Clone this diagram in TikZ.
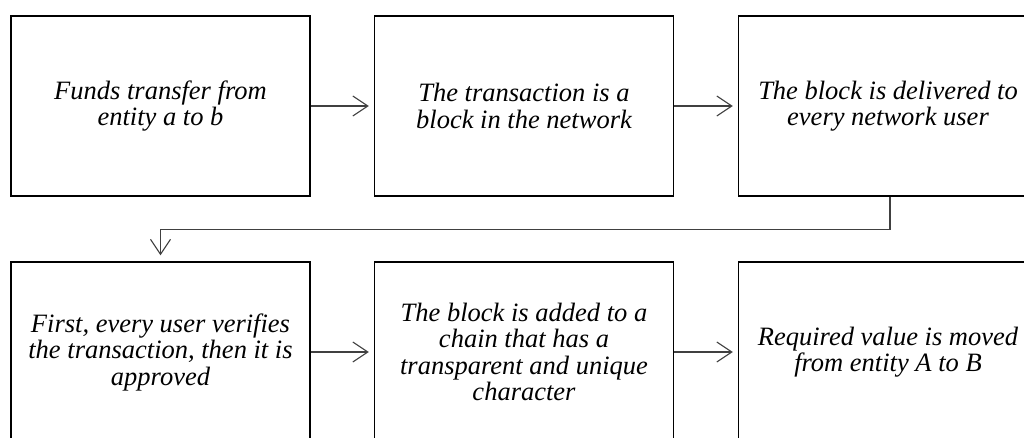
\documentclass[tikz,border=0pt]{standalone}
\usepackage{fontspec}
\setmainfont{Liberation Serif}
\usetikzlibrary{arrows.meta}
\begin{document}
\begin{tikzpicture}[x=1pt,y=-1pt,
  stepbox/.style={draw=black,line width=1.4pt,minimum width=299pt,minimum height=180pt,inner sep=0pt,align=center,
    font=\fontsize{26.5}{26.5}\selectfont\itshape},
  conn/.style={draw=black!75,line width=1.1pt,-{Straight Barb[length=15pt,width=20pt,line width=1.1pt]},shorten >=5pt}]
\useasboundingbox (0,0) rectangle (1024,438);
\node[stepbox] (b1) at (160.5,106) {Funds transfer from\\entity a to b};
\node[stepbox] (b2) at (524,106) {The transaction is a\\block in the network};
\node[stepbox] (b3) at (888,106) {The block is delivered to\\every network user};
\node[stepbox] (b4) at (160.5,352) {First, every user verifies\\the transaction, then it is\\approved};
\node[stepbox] (b5) at (524,352) {The block is added to a\\chain that has a\\transparent and unique\\character};
\node[stepbox] (b6) at (888,352) {Required value is moved\\from entity A to B};
\coordinate (c1) at (890,229.5);
\coordinate (c2) at (160.5,229.5);
\draw[conn] (b1.east) -- (b2.west);
\draw[conn] (b2.east) -- (b3.west);
\draw[conn] (b4.east) -- (b5.west);
\draw[conn] (b5.east) -- (b6.west);
\draw[conn,shorten >=6pt] (b3.south -| c1) -- (c1) -- (c2) -- (b4.north);
\end{tikzpicture}
\end{document}
